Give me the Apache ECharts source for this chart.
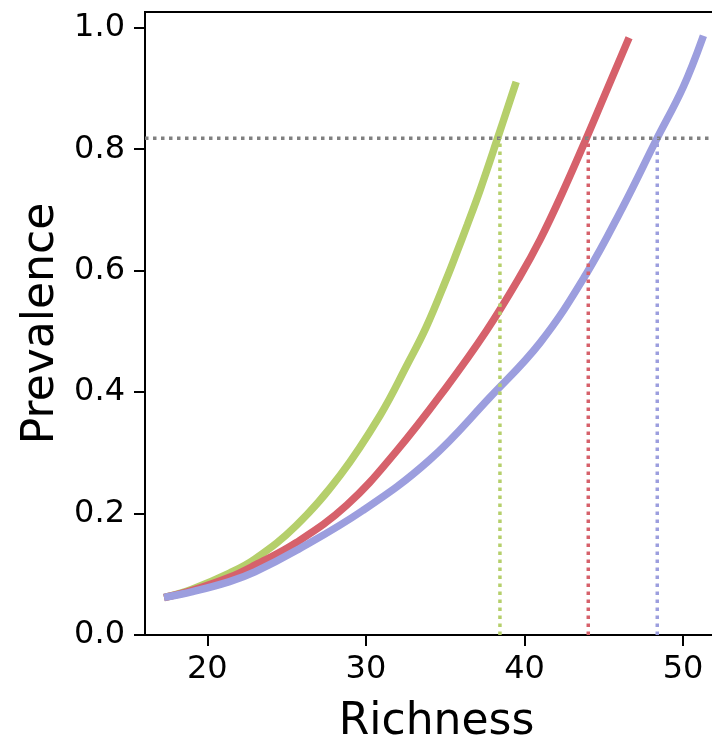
<!DOCTYPE html>
<html>
<head>
<meta charset="utf-8">
<script src="https://cdn.jsdelivr.net/npm/echarts@6/dist/echarts.min.js"></script>
<style>
  html, body { margin: 0; padding: 0; background: #fff; }
  #chart { width: 712px; height: 742px; }
</style>
</head>
<body>
<div id="chart"></div>
<script>
// curves
const greenX = [17.5, 19, 21.4, 23, 25.6, 28.4, 30.9, 32.6, 33.8, 35.1, 35.7, 36.4, 37.2, 38.3, 39.4]
const greenY = [0.063, 0.075, 0.102, 0.125, 0.18, 0.264, 0.362, 0.445, 0.507, 0.588, 0.628, 0.676, 0.733, 0.818, 0.905]

const redX = [17.5, 19, 21.4, 23, 25.6, 28.8, 31.9, 35.1, 37.6, 39.7, 41.0, 42.4, 43.9, 45.1, 46.5]
const redY = [0.063, 0.073, 0.095, 0.115, 0.152, 0.214, 0.302, 0.409, 0.501, 0.59, 0.652, 0.729, 0.818, 0.892, 0.978]

const blueX = [17.5, 19, 21.4, 23, 25.6, 29.8, 34.0, 37.8, 41.0, 43.9, 46.2, 48.3, 50.0, 51.2]
const blueY = [0.063, 0.071, 0.088, 0.104, 0.139, 0.205, 0.288, 0.391, 0.482, 0.595, 0.705, 0.815, 0.902, 0.981]

// threshold and where each curve crosses it
const threshold = 0.818
const crossX = [38.45, 44.02, 48.37]

const xTicks = [20, 30, 40, 50]
const yTicks = [0, 0.2, 0.4, 0.6, 0.8, 1.0]
const xRange = [16.07, 52.83]
const yRange = [0, 1.026]

const colors = ["#b5cf6b", "#d6616b", "#9c9ede"]
const font = "DejaVu Sans"

const pairs = (xs, ys) => xs.map((x, i) => [x, ys[i]])

const curve = (xs, ys, color) => ({
  type: "line",
  data: pairs(xs, ys),
  smooth: 0.4,
  symbol: "none",
  z: 2,
  lineStyle: { color: color, width: 7.5, cap: "square" }
})

const dotted = (data, color) => ({
  type: "line",
  data: data,
  symbol: "none",
  z: 3,
  lineStyle: { color: color, width: 3.5, type: [3.5, 4.5], cap: "butt" }
})

const axisCommon = {
  axisLine: { lineStyle: { color: "#000", width: 2 } },
  axisTick: { length: 11, lineStyle: { color: "#000", width: 2 } },
  splitLine: { show: false },
  nameTextStyle: { fontFamily: font, fontSize: 44, color: "#000" }
}

const option = {
  animation: false,
  backgroundColor: "#fff",
  grid: {
    left: 145,
    top: 12,
    width: 583,
    height: 623,
    containLabel: false,
    outerBoundsMode: "none",
    show: true,
    borderColor: "#000",
    borderWidth: 2
  },
  xAxis: {
    type: "value",
    min: xRange[0],
    max: xRange[1],
    name: "Richness",
    nameLocation: "middle",
    nameGap: 66,
    ...axisCommon,
    axisTick: { ...axisCommon.axisTick, customValues: xTicks },
    axisLabel: {
      customValues: xTicks,
      margin: 19,
      fontFamily: font,
      fontSize: 32,
      color: "#000"
    }
  },
  yAxis: {
    type: "value",
    min: yRange[0],
    max: yRange[1],
    name: "Prevalence",
    nameLocation: "middle",
    nameGap: 80,
    ...axisCommon,
    axisTick: { ...axisCommon.axisTick, customValues: yTicks },
    axisLabel: {
      customValues: yTicks,
      margin: 20,
      fontFamily: font,
      fontSize: 32,
      color: "#000",
      formatter: v => v.toFixed(1)
    }
  },
  series: [
    curve(greenX, greenY, colors[0]),
    curve(redX, redY, colors[1]),
    curve(blueX, blueY, colors[2]),
    dotted([[xRange[0], threshold], [xRange[1], threshold]], "#808080"),
    ...crossX.map((x, i) => dotted([[x, 0], [x, threshold]], colors[i]))
  ]
}

echarts.init(document.getElementById("chart")).setOption(option)
</script>
</body>
</html>
